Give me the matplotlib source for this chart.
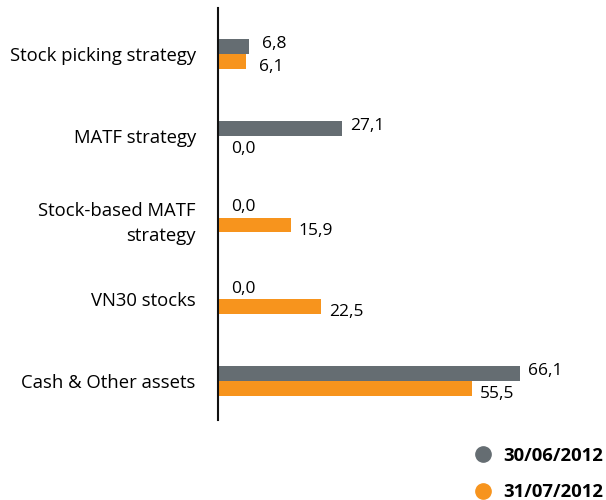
import matplotlib
matplotlib.use("Agg")
import matplotlib.pyplot as plt
from matplotlib.lines import Line2D

# -----------------------------
# Data
# -----------------------------
categories = ["Stock picking strategy", "MATF strategy", "Stock-based MATF\nstrategy",
              "VN30 stocks", "Cash & Other assets"]
jun_2012 = [6.8, 27.1, 0.0, 0.0, 66.1]
jul_2012 = [6.1, 0.0, 15.9, 22.5, 55.5]
series_names = ["30/06/2012", "31/07/2012"]

GREY = "#656d72"
ORANGE = "#f7941d"

plt.rcParams["font.family"] = ["Open Sans", "DejaVu Sans"]

fig = plt.figure(figsize=(6.06, 5.0), dpi=100)
ax = fig.add_axes([218 / 606, 80 / 500, 366 / 606, 412 / 500])

pos = list(range(len(categories)))
h = 0.183
ax.barh([p - h / 2 for p in pos], jun_2012, height=h, color=GREY)
ax.barh([p + h / 2 for p in pos], jul_2012, height=h, color=ORANGE)

# value labels
for p, v in zip(pos, jun_2012):
    ax.annotate(f"{v:.1f}".replace(".", ","), (v, p - h / 2), xytext=(18, 2),
                textcoords="offset points", ha="center", va="center", fontsize=12.5)
for p, v in zip(pos, jul_2012):
    ax.annotate(f"{v:.1f}".replace(".", ","), (v, p + h / 2), xytext=(18, -4),
                textcoords="offset points", ha="center", va="center", fontsize=12.5)

ax.set_xlim(0, 80)
ax.set_ylim(4.477, -0.563)
ax.set_yticks(pos)
ax.set_yticklabels(categories, fontsize=13.3, ha="right", linespacing=1.55)
ax.tick_params(axis="y", length=0, pad=16)
ax.set_xticks([])
for s in ["top", "right", "bottom"]:
    ax.spines[s].set_visible(False)
ax.spines["left"].set_linewidth(1.5)
ax.spines["left"].set_color("#111111")

# legend
handles = [Line2D([], [], marker="o", ls="none", color=GREY, markersize=11),
           Line2D([], [], marker="o", ls="none", color=ORANGE, markersize=11)]
leg = fig.legend(handles, series_names, loc="upper left", bbox_to_anchor=(455 / 606, 1 - 430 / 500),
                 frameon=False, prop={"weight": "bold", "size": 13.3},
                 handletextpad=0.5, labelspacing=1.0, handlelength=1.2)

plt.savefig("out.png", dpi=100)
